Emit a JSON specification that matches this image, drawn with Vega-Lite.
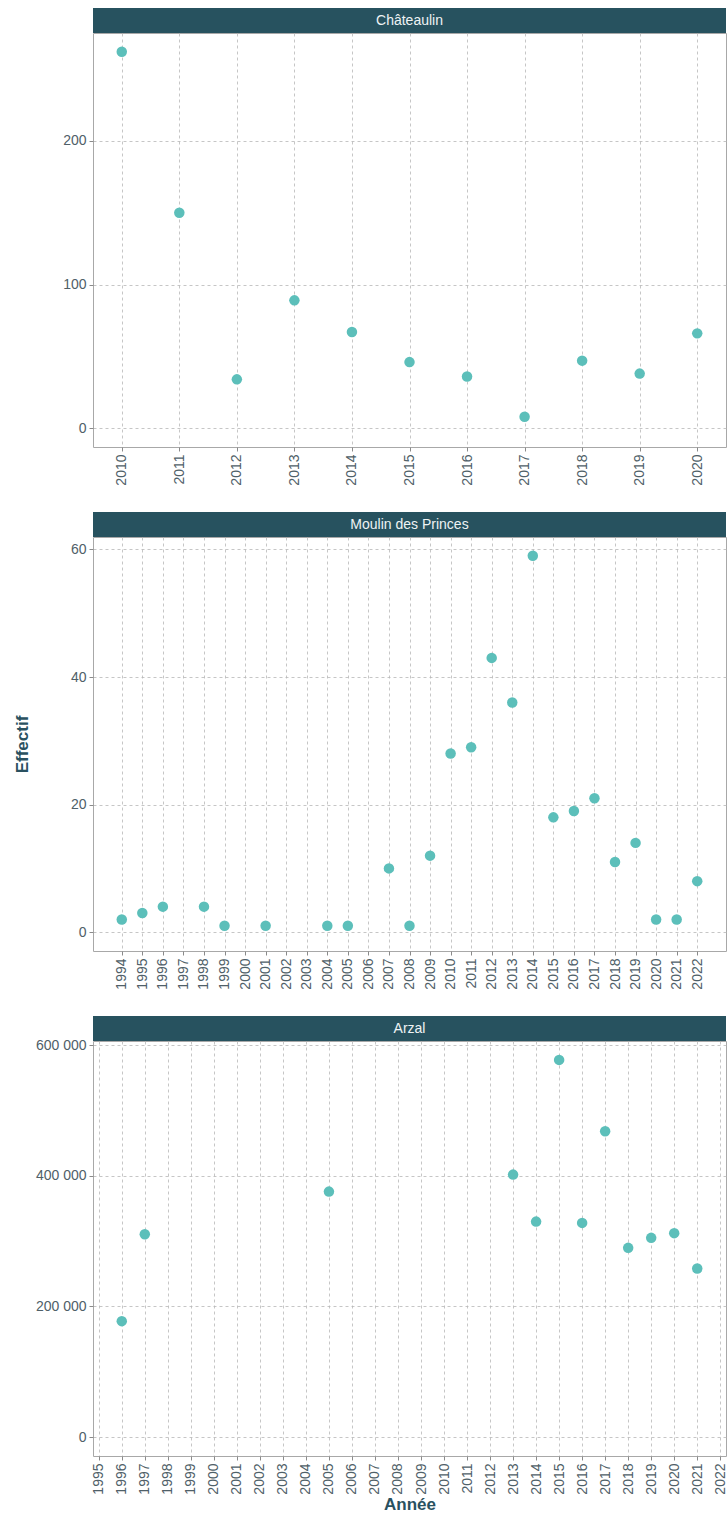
{
  "$schema": "https://vega.github.io/schema/vega-lite/v6.json",
  "background": "white",
  "padding": {"left": 12, "top": 8, "right": 2, "bottom": 0},
  "datasets": {
    "stations": [
      {"station": "Châteaulin"},
      {"station": "Moulin des Princes"},
      {"station": "Arzal"}
    ],
    "mesures": [
      {"station": "Châteaulin", "annee": 2010, "effectif": 262},
      {"station": "Châteaulin", "annee": 2011, "effectif": 150},
      {"station": "Châteaulin", "annee": 2012, "effectif": 34},
      {"station": "Châteaulin", "annee": 2013, "effectif": 89},
      {"station": "Châteaulin", "annee": 2014, "effectif": 67},
      {"station": "Châteaulin", "annee": 2015, "effectif": 46},
      {"station": "Châteaulin", "annee": 2016, "effectif": 36},
      {"station": "Châteaulin", "annee": 2017, "effectif": 8},
      {"station": "Châteaulin", "annee": 2018, "effectif": 47},
      {"station": "Châteaulin", "annee": 2019, "effectif": 38},
      {"station": "Châteaulin", "annee": 2020, "effectif": 66},
      {"station": "Moulin des Princes", "annee": 1994, "effectif": 2},
      {"station": "Moulin des Princes", "annee": 1995, "effectif": 3},
      {"station": "Moulin des Princes", "annee": 1996, "effectif": 4},
      {"station": "Moulin des Princes", "annee": 1998, "effectif": 4},
      {"station": "Moulin des Princes", "annee": 1999, "effectif": 1},
      {"station": "Moulin des Princes", "annee": 2001, "effectif": 1},
      {"station": "Moulin des Princes", "annee": 2004, "effectif": 1},
      {"station": "Moulin des Princes", "annee": 2005, "effectif": 1},
      {"station": "Moulin des Princes", "annee": 2007, "effectif": 10},
      {"station": "Moulin des Princes", "annee": 2008, "effectif": 1},
      {"station": "Moulin des Princes", "annee": 2009, "effectif": 12},
      {"station": "Moulin des Princes", "annee": 2010, "effectif": 28},
      {"station": "Moulin des Princes", "annee": 2011, "effectif": 29},
      {"station": "Moulin des Princes", "annee": 2012, "effectif": 43},
      {"station": "Moulin des Princes", "annee": 2013, "effectif": 36},
      {"station": "Moulin des Princes", "annee": 2014, "effectif": 59},
      {"station": "Moulin des Princes", "annee": 2015, "effectif": 18},
      {"station": "Moulin des Princes", "annee": 2016, "effectif": 19},
      {"station": "Moulin des Princes", "annee": 2017, "effectif": 21},
      {"station": "Moulin des Princes", "annee": 2018, "effectif": 11},
      {"station": "Moulin des Princes", "annee": 2019, "effectif": 14},
      {"station": "Moulin des Princes", "annee": 2020, "effectif": 2},
      {"station": "Moulin des Princes", "annee": 2021, "effectif": 2},
      {"station": "Moulin des Princes", "annee": 2022, "effectif": 8},
      {"station": "Arzal", "annee": 1996, "effectif": 177500},
      {"station": "Arzal", "annee": 1997, "effectif": 310600},
      {"station": "Arzal", "annee": 2005, "effectif": 375800},
      {"station": "Arzal", "annee": 2013, "effectif": 401800},
      {"station": "Arzal", "annee": 2014, "effectif": 329900},
      {"station": "Arzal", "annee": 2015, "effectif": 577400},
      {"station": "Arzal", "annee": 2016, "effectif": 327900},
      {"station": "Arzal", "annee": 2017, "effectif": 468200},
      {"station": "Arzal", "annee": 2018, "effectif": 289700},
      {"station": "Arzal", "annee": 2019, "effectif": 305000},
      {"station": "Arzal", "annee": 2020, "effectif": 312200},
      {"station": "Arzal", "annee": 2021, "effectif": 258000}
    ]
  },
  "config": {
    "font": "Liberation Sans",
    "view": {"stroke": "#a8a8a8", "strokeWidth": 1},
    "axis": {
      "domain": false,
      "grid": true,
      "gridColor": "#b8b8b8",
      "gridDash": [3, 3],
      "gridWidth": 0.8,
      "ticks": true,
      "tickColor": "#8a8a8a",
      "tickSize": 4,
      "labelColor": "#4f6068",
      "labelFont": "Liberation Sans",
      "labelFontSize": 14,
      "labelPadding": 3,
      "labelOverlap": false,
      "labelFlush": false,
      "titleColor": "#2a5160",
      "titleFont": "Liberation Sans",
      "titleFontSize": 17,
      "titleFontWeight": "bold"
    }
  },
  "spacing": 26,
  "bounds": "full",
  "vconcat": [
    {
      "spacing": 0,
      "bounds": "flush",
      "vconcat": [
        {
          "data": {"name": "stations"},
          "transform": [{"filter": "datum.station === 'Châteaulin'"}],
          "width": 633,
          "height": 25,
          "view": {"fill": "#27525f", "stroke": null},
          "mark": {"type": "text", "color": "#eef3f4", "fontSize": 14, "align": "center", "baseline": "middle"},
          "encoding": {"text": {"field": "station", "type": "nominal"}}
        },
        {
          "data": {"name": "mesures"},
          "transform": [{"filter": "datum.station === 'Châteaulin'"}],
          "width": 633,
          "height": 414,
          "mark": {"type": "circle", "size": 110, "color": "#5cbfba", "opacity": 1},
          "encoding": {
            "x": {
              "field": "annee", "type": "quantitative",
              "scale": {"domain": [2009.5, 2020.5], "nice": false, "zero": false},
              "axis": {"values": [2010, 2011, 2012, 2013, 2014, 2015, 2016, 2017, 2018, 2019, 2020], "format": "d", "labelAngle": -90, "title": null}
            },
            "y": {
              "field": "effectif", "type": "quantitative",
              "scale": {"domain": [-13.1, 275.1], "nice": false, "zero": false},
              "axis": {"values": [0, 100, 200], "title": null}
            }
          }
        }
      ]
    },
    {
      "spacing": 0,
      "bounds": "flush",
      "vconcat": [
        {
          "data": {"name": "stations"},
          "transform": [{"filter": "datum.station === 'Moulin des Princes'"}],
          "width": 633,
          "height": 25,
          "view": {"fill": "#27525f", "stroke": null},
          "mark": {"type": "text", "color": "#eef3f4", "fontSize": 14, "align": "center", "baseline": "middle"},
          "encoding": {"text": {"field": "station", "type": "nominal"}}
        },
        {
          "data": {"name": "mesures"},
          "transform": [{"filter": "datum.station === 'Moulin des Princes'"}],
          "width": 633,
          "height": 414,
          "mark": {"type": "circle", "size": 110, "color": "#5cbfba", "opacity": 1},
          "encoding": {
            "x": {
              "field": "annee", "type": "quantitative",
              "scale": {"domain": [1992.6, 2023.4], "nice": false, "zero": false},
              "axis": {"values": [1994, 1995, 1996, 1997, 1998, 1999, 2000, 2001, 2002, 2003, 2004, 2005, 2006, 2007, 2008, 2009, 2010, 2011, 2012, 2013, 2014, 2015, 2016, 2017, 2018, 2019, 2020, 2021, 2022], "format": "d", "labelAngle": -90, "title": null}
            },
            "y": {
              "field": "effectif", "type": "quantitative",
              "scale": {"domain": [-2.95, 61.95], "nice": false, "zero": false},
              "axis": {"values": [0, 20, 40, 60], "title": "Effectif", "titlePadding": 39}
            }
          }
        }
      ]
    },
    {
      "spacing": 0,
      "bounds": "flush",
      "vconcat": [
        {
          "data": {"name": "stations"},
          "transform": [{"filter": "datum.station === 'Arzal'"}],
          "width": 633,
          "height": 25,
          "view": {"fill": "#27525f", "stroke": null},
          "mark": {"type": "text", "color": "#eef3f4", "fontSize": 14, "align": "center", "baseline": "middle"},
          "encoding": {"text": {"field": "station", "type": "nominal"}}
        },
        {
          "data": {"name": "mesures"},
          "transform": [{"filter": "datum.station === 'Arzal'"}],
          "width": 633,
          "height": 415,
          "mark": {"type": "circle", "size": 110, "color": "#5cbfba", "opacity": 1},
          "encoding": {
            "x": {
              "field": "annee", "type": "quantitative",
              "scale": {"domain": [1994.75, 2022.25], "nice": false, "zero": false},
              "axis": {"values": [1995, 1996, 1997, 1998, 1999, 2000, 2001, 2002, 2003, 2004, 2005, 2006, 2007, 2008, 2009, 2010, 2011, 2012, 2013, 2014, 2015, 2016, 2017, 2018, 2019, 2020, 2021, 2022], "format": "d", "labelAngle": -90, "title": "Année", "titlePadding": 2}
            },
            "y": {
              "field": "effectif", "type": "quantitative",
              "scale": {"domain": [-28870, 606300], "nice": false, "zero": false},
              "axis": {"values": [0, 200000, 400000, 600000], "labelExpr": "replace(format(datum.value, ',d'), ',', ' ')", "title": null}
            }
          }
        }
      ]
    }
  ]
}
